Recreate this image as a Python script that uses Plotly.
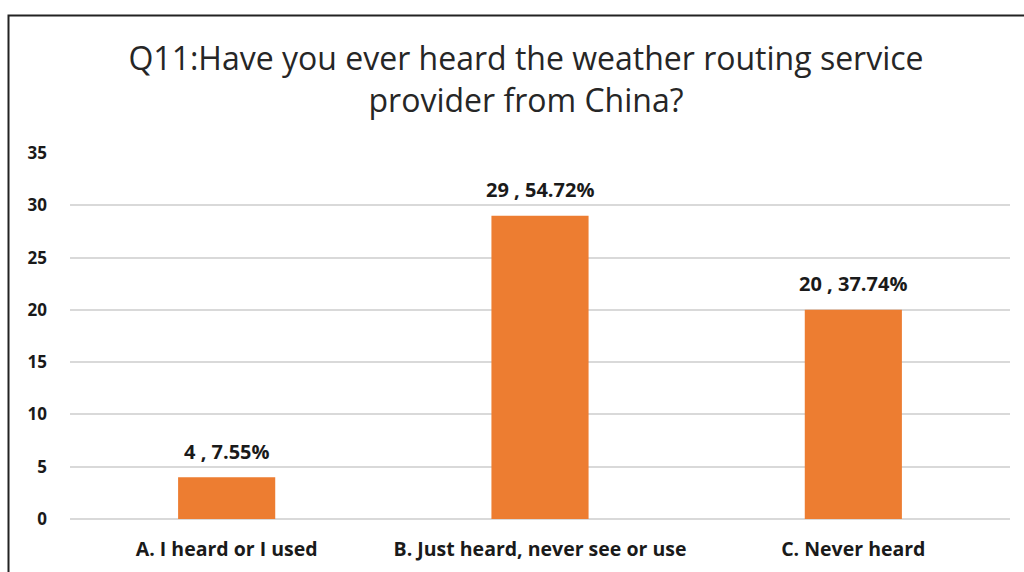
import plotly.graph_objects as go

# Survey responses for Q11
categories = ["A. I heard or I used", "B. Just heard, never see or use", "C. Never heard"]
counts = [4, 29, 20]
y_ticks = [0, 5, 10, 15, 20, 25, 30, 35]

total = sum(counts)
labels = [f"{c} , {c / total * 100:.2f}%" for c in counts]

label_font = dict(family="Open Sans", size=20, color="#1a1a1a", weight="bold")

fig = go.Figure(
    go.Bar(
        x=categories,
        y=counts,
        marker=dict(color="#ED7D31", line=dict(width=0)),
        width=0.31,
    )
)

# value labels sitting above each bar
for cat, c, lab in zip(categories, counts, labels):
    fig.add_annotation(
        x=cat, y=c, text=lab, showarrow=False,
        xanchor="center", yanchor="middle", yshift=26,
        font=label_font,
    )

fig.update_layout(
    width=1024,
    height=572,
    paper_bgcolor="white",
    plot_bgcolor="white",
    margin=dict(l=70, r=14, t=153, b=53, autoexpand=False),
    showlegend=False,
    title=dict(
        text="Q11:Have you ever heard the weather routing service<br>provider from China?",
        x=526 / 1024,
        xanchor="center",
        y=1 - 70 / 572,
        yanchor="middle",
        yref="container",
        font=dict(family="Open Sans", size=32, color="#262626"),
    ),
    xaxis=dict(
        automargin=False,
        showline=False,
        showgrid=False,
        ticks="",
        ticklabelstandoff=16,
        tickfont=dict(family="Open Sans", size=19.5, color="#1a1a1a", weight="bold"),
    ),
    yaxis=dict(
        automargin=False,
        range=[0, 35],
        tickvals=y_ticks,
        showgrid=True,
        gridcolor="#D9D9D9",
        gridwidth=1.5,
        zeroline=True,
        zerolinecolor="#D9D9D9",
        zerolinewidth=1.5,
        showline=False,
        ticks="",
        ticklabelstandoff=22,
        tickfont=dict(family="Open Sans", size=17, color="#1a1a1a", weight="bold"),
    ),
    shapes=[
        dict(
            type="rect",
            xref="paper",
            yref="paper",
            x0=(8.5 - 70) / 940,
            x1=(1030 - 70) / 940,
            y0=(519 - 580) / 366,
            y1=(519 - 15.5) / 366,
            line=dict(color="#222222", width=2),
            layer="above",
        )
    ],
)

fig.write_html("out.html")
